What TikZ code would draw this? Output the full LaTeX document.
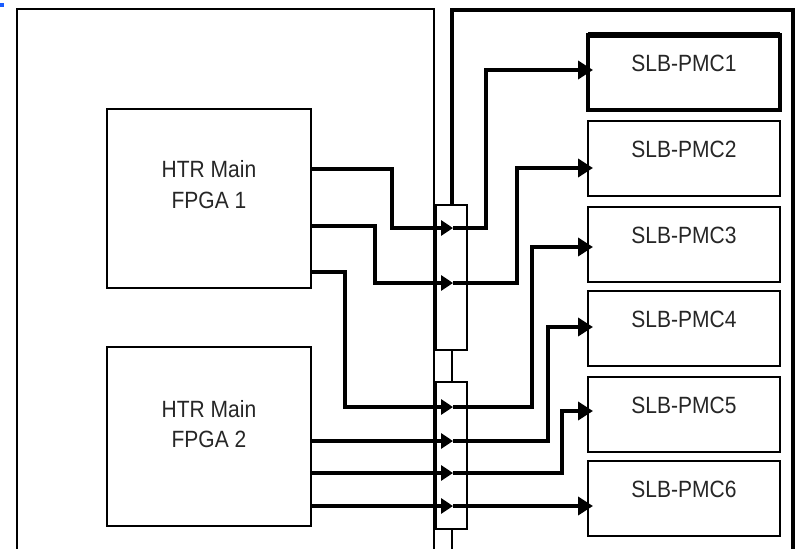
\documentclass[tikz,border=0pt]{standalone}
\usepackage{fontspec}
\setmainfont{Liberation Sans}
\usepackage{graphicx}
\usetikzlibrary{arrows.meta,calc}
\newcommand{\stx}[1]{\scalebox{1}[1.12]{#1}}
\begin{document}
\begin{tikzpicture}[x=1pt,y=-1pt,
  frame/.style={draw, line width=2.8pt, line join=miter},
  fpga/.style={draw, line width=2.8pt, minimum width=204pt, minimum height=179pt, anchor=north west, inner sep=0, outer sep=0},
  slb/.style={draw, line width=2.8pt, minimum width=192pt, minimum height=75pt, anchor=north west, inner sep=0, outer sep=0},
  conn/.style={draw, line width=2.2pt, minimum width=31pt, anchor=north west, inner sep=0, outer sep=0},
  lbl/.style={font=\fontsize{21}{25}\selectfont, text=black!85, anchor=base, inner sep=0},
  wire/.style={line width=4.3pt, line join=miter},
  ctip/.style={-{Triangle[length=12pt,width=15pt]}},
  stip/.style={-{Triangle[length=15pt,width=18pt]}, shorten >=-5pt},
]
\useasboundingbox (0,0) rectangle (796,549);
\clip (0,0) rectangle (796,549);
\fill[fill={rgb,255:red,26;green,92;blue,255}] (0,3) rectangle (4,7);

% connector strips
\node[conn, minimum height=145pt] (c1) at (436,205) {};
\node[conn, minimum height=147pt] (c2) at (436,382) {};

% outer frames
\draw[frame] (17,560) -- (17,9) -- (434,9) -- (434,560);
\draw[frame, line width=3.2pt] (c1.north -| 452,0) -- (452,10) -- (793,10) -- (793,560);
\draw[frame] (c1.south -| 452,0) -- (c2.north -| 452,0);
\draw[frame] (c2.south -| 452,0) -- (452,560);

% FPGA boxes
\node[fpga] (f1) at (107,109) {};
\node[fpga] (f2) at (107,347) {};
\node[lbl] (f1a) at ($(f1.north)+(0,68.5)$) {\stx{HTR Main}};
\node[lbl] (f1b) at ($(f1.north)+(0,99)$) {\stx{FPGA 1}};
\node[lbl] (f2a) at ($(f2.north)+(0,70)$) {\stx{HTR Main}};
\node[lbl] (f2b) at ($(f2.north)+(0,100)$) {\stx{FPGA 2}};

% SLB boxes
\node[slb, line width=3.3pt] (s1) at (588,35) {};
\draw[line width=5.5pt] (s1.north west) -- (s1.north east);
\node[slb] (s2) at (588,121) {};
\node[slb] (s3) at (588,207) {};
\node[slb] (s4) at (588,291) {};
\node[slb] (s5) at (588,377) {};
\node[slb] (s6) at (588,461) {};
\foreach \i in {1,...,6}{
  \node[lbl] (s\i t) at ($(s\i.north)+(0,36.5)$) {\stx{SLB-PMC\i}};
}

% connector tips
\coordinate (p1) at (453,228);
\coordinate (p2) at (453,283);
\coordinate (p3) at (453,407);
\coordinate (q1) at (453,441);
\coordinate (q2) at (453,473);
\coordinate (q3) at (453,506);

% wires FPGA 1
\draw[wire,ctip] (f1.east |- 0,169) -| (392,228) -- (p1);
\draw[wire,stip] (p1) -| (486,70) -- (s1.west |- 0,70);
\draw[wire,ctip] (f1.east |- 0,226) -| (375,283) -- (p2);
\draw[wire,stip] (p2) -| (517,168) -- (s2.west |- 0,168);
\draw[wire,ctip] (f1.east |- 0,272) -| (345,407) -- (p3);
\draw[wire,stip] (p3) -| (532,247) -- (s3.west |- 0,247);

% wires FPGA 2
\draw[wire,ctip] (f2.east |- 0,441) -- (q1);
\draw[wire,stip] (q1) -| (548,327) -- (s4.west |- 0,327);
\draw[wire,ctip] (f2.east |- 0,473) -- (q2);
\draw[wire,stip] (q2) -| (562,411) -- (s5.west |- 0,411);
\draw[wire,ctip] (f2.east |- 0,506) -- (q3);
\draw[wire,stip] (q3) -- (s6.west |- 0,506);
\end{tikzpicture}
\end{document}
